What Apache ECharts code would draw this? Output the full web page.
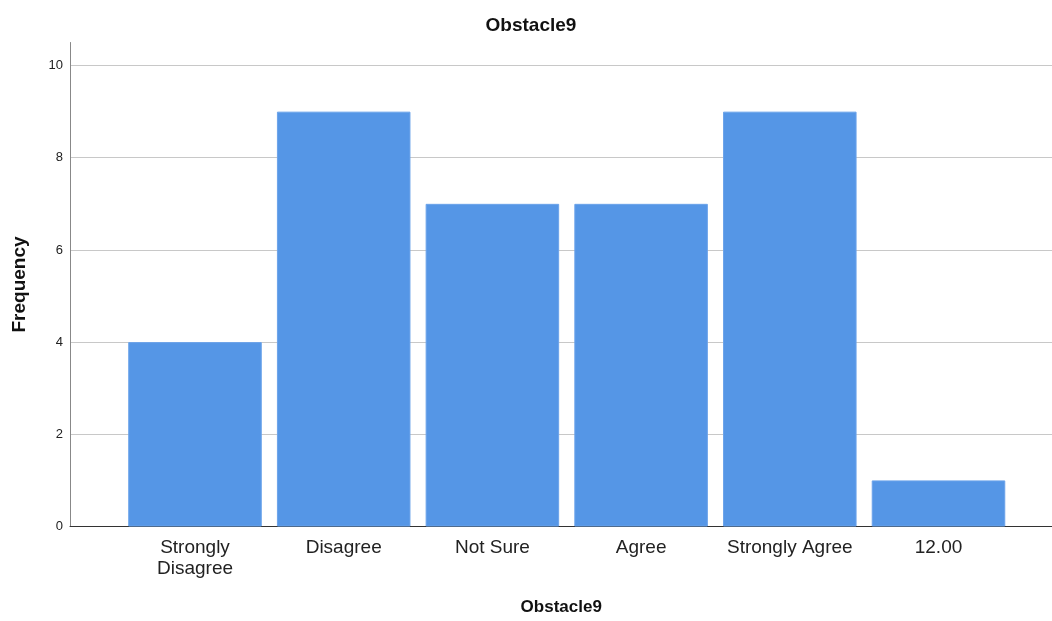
<!DOCTYPE html>
<html><head><meta charset="utf-8">
<script src="https://cdn.jsdelivr.net/npm/echarts@6/dist/echarts.min.js"></script>
<style>html,body{margin:0;padding:0;background:#fff}#c{width:1052px;height:621px}</style>
</head><body><div id="c"></div>
<script>
const chartTitle = 'Obstacle9';
const xAxisTitle = 'Obstacle9';
const yAxisTitle = 'Frequency';
const categories = ['Strongly\nDisagree', 'Disagree', 'Not Sure', 'Agree', 'Strongly Agree', '12.00'];
const frequencies = [4, 9, 7, 7, 9, 1];
const yTickLabels = [0, 2, 4, 6, 8, 10];
const yMax = 10.5;

const FONT = 'Liberation Sans, Arial, sans-serif';
const chart = echarts.init(document.getElementById('c'));
chart.setOption({
  animation: false,
  backgroundColor: '#ffffff',
  title: {
    text: chartTitle, left: 531, top: 16, padding: 0, textAlign: 'center',
    textStyle: {fontFamily: FONT, fontSize: 19, fontWeight: 'bold', color: '#111'}
  },
  grid: [
    {left: 70, right: 0, top: 42.5, bottom: 94.5},
    {left: 120.65, right: 39.15, top: 42.5, bottom: 94.5}
  ],
  xAxis: [
    {
      type: 'value', gridIndex: 0, min: 0, max: 1,
      axisLine: {show: true, onZero: true, lineStyle: {color: '#333', width: 1}},
      axisTick: {show: false}, axisLabel: {show: false}, splitLine: {show: false}
    },
    {
      type: 'category', gridIndex: 1, data: categories,
      axisLine: {show: false}, axisTick: {show: false},
      axisLabel: {fontFamily: FONT, fontSize: 19, color: '#222', lineHeight: 21, margin: 11, interval: 0},
      name: xAxisTitle, nameLocation: 'middle', nameGap: 72,
      nameTextStyle: {fontFamily: FONT, fontSize: 17, fontWeight: 'bold', color: '#111', padding: [0, 11, 0, 0]}
    }
  ],
  yAxis: [
    {
      type: 'value', gridIndex: 0, min: 0, max: yMax, interval: 2,
      axisLine: {show: true, lineStyle: {color: '#888', width: 1}},
      axisTick: {show: false},
      axisLabel: {
        fontFamily: FONT, fontSize: 13, color: '#222', margin: 7, showMaxLabel: false,
        formatter: v => yTickLabels.includes(v) ? String(v) : ''
      },
      splitLine: {show: true, showMaxLine: false, lineStyle: {color: '#c8c8c8', width: 1}},
      name: yAxisTitle, nameLocation: 'middle', nameGap: 41,
      nameTextStyle: {fontFamily: FONT, fontSize: 19, fontWeight: 'bold', color: '#111'}
    },
    {
      type: 'value', gridIndex: 1, min: 0, max: yMax, interval: 2, show: false,
      splitLine: {show: false}
    }
  ],
  series: [{
    type: 'bar', xAxisIndex: 1, yAxisIndex: 1, data: frequencies,
    barWidth: '89.8%',
    itemStyle: {color: '#5596e6', borderColor: '#6ba3ea', borderWidth: 1}
  }]
});
</script></body></html>
